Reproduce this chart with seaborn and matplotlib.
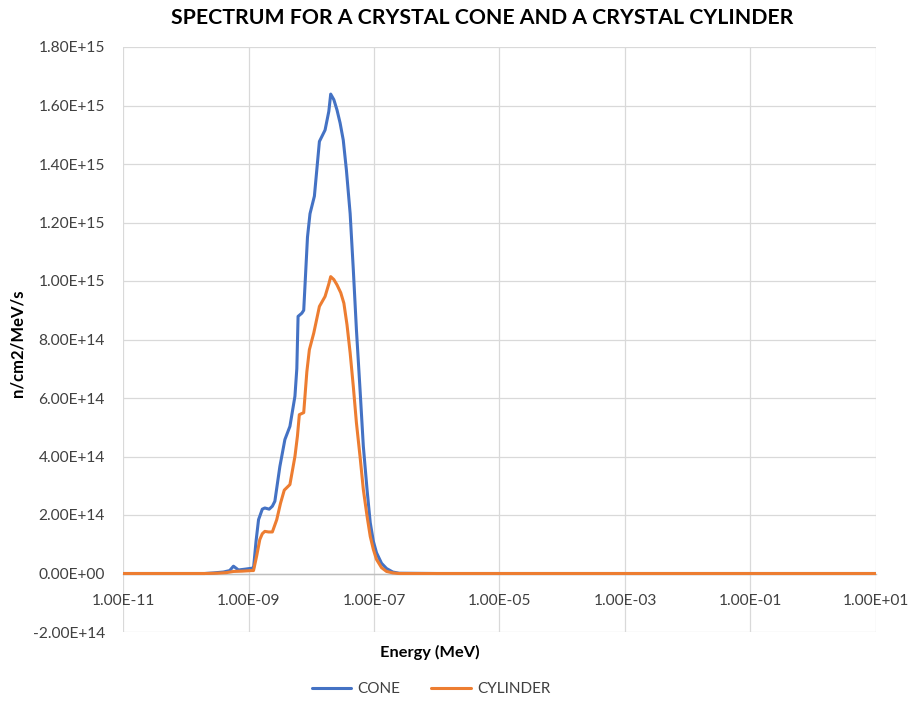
import numpy as np
import pandas as pd
import matplotlib
matplotlib.use("Agg")
import matplotlib.pyplot as plt
import seaborn as sns
from matplotlib.ticker import FixedLocator, FuncFormatter
from matplotlib.lines import Line2D

# ---- data (log10 of energy in MeV, flux in n/cm2/MeV/s) ----
cone_logE = [-11.0, -10.0, -9.7, -9.56, -9.4, -9.3, -9.24, -9.16, -9.05, -8.95, -8.92,
             -8.88, -8.84, -8.78, -8.74, -8.67, -8.62, -8.58, -8.50, -8.42, -8.34, -8.26,
             -8.23, -8.21, -8.15, -8.12, -8.06, -8.02, -7.95, -7.87, -7.78, -7.72, -7.69,
             -7.64, -7.59, -7.54, -7.49, -7.44, -7.38, -7.33, -7.28, -7.22, -7.17, -7.11,
             -7.06, -7.01, -6.96, -6.88, -6.80, -6.70, -6.6, -6.0, -4.0, -2.0, 0.0, 1.0]
cone_flux = [0, 0, 0, 2e12, 5e12, 1e13, 2.5e13, 1.2e13, 1.5e13, 1.8e13, 1.8e13,
             1.1e14, 1.84e14, 2.2e14, 2.24e14, 2.2e14, 2.3e14, 2.47e14, 3.66e14, 4.58e14, 5.03e14, 6.06e14,
             7.0e14, 8.79e14, 8.9e14, 9.0e14, 1.15e15, 1.23e15, 1.29e15, 1.477e15, 1.516e15, 1.58e15, 1.639e15,
             1.62e15, 1.585e15, 1.54e15, 1.482e15, 1.38e15, 1.23e15, 1.04e15, 8.33e14, 6.2e14, 4.35e14, 2.85e14,
             1.74e14, 1.1e14, 7.1e13, 3.5e13, 1.7e13, 5e12, 1e12, 0, 0, 0, 0, 0]

cyl_logE = [-11.0, -10.0, -9.7, -9.5, -9.35, -9.24, -9.1, -8.95, -8.92,
            -8.87, -8.82, -8.78, -8.74, -8.68, -8.62, -8.55, -8.49, -8.43, -8.34, -8.26,
            -8.22, -8.19, -8.12, -8.07, -8.03, -7.96, -7.87, -7.78, -7.72, -7.69, -7.64,
            -7.59, -7.53, -7.48, -7.43, -7.38, -7.33, -7.28, -7.22, -7.17, -7.11, -7.06,
            -7.01, -6.96, -6.88, -6.80, -6.70, -6.6, -6.0, -4.0, -2.0, 0.0, 1.0]
cyl_flux = [0, 0, 0, 1e12, 3e12, 7e12, 8e12, 1e13, 1e13,
            6e13, 1.16e14, 1.36e14, 1.44e14, 1.42e14, 1.42e14, 1.84e14, 2.4e14, 2.85e14, 3.04e14, 4.0e14,
            4.7e14, 5.43e14, 5.5e14, 6.9e14, 7.65e14, 8.22e14, 9.13e14, 9.47e14, 9.9e14, 1.015e15, 1.005e15,
            9.87e14, 9.6e14, 9.24e14, 8.5e14, 7.54e14, 6.4e14, 5.15e14, 3.95e14, 2.87e14, 1.95e14, 1.27e14,
            8.2e13, 4.8e13, 2.0e13, 7e12, 2e12, 0, 0, 0, 0, 0, 0]

series_names = ["CONE", "CYLINDER"]
x_ticks = [1e-11, 1e-9, 1e-7, 1e-5, 1e-3, 1e-1, 1e1]
y_ticks = [-2e14, 0, 2e14, 4e14, 6e14, 8e14, 1e15, 1.2e15, 1.4e15, 1.6e15, 1.8e15]

df = pd.concat([
    pd.DataFrame({"Energy": np.power(10.0, cone_logE), "Flux": cone_flux, "Series": series_names[0]}),
    pd.DataFrame({"Energy": np.power(10.0, cyl_logE), "Flux": cyl_flux, "Series": series_names[1]}),
], ignore_index=True)

sns.set_theme(style="white")
plt.rcParams["font.family"] = ["Lato", "DejaVu Sans"]

fig = plt.figure(figsize=(9.17, 7.01), dpi=100)
ax = fig.add_axes([123/917, 1 - 632/701, (876-123)/917, (632-47)/701])

palette = {"CONE": "#4472C4", "CYLINDER": "#ED7D31"}
sns.lineplot(data=df, x="Energy", y="Flux", hue="Series", palette=palette, estimator=None,
             sort=False, linewidth=2.2, ax=ax, legend=False)

ax.set_xscale("log")
ax.set_xlim(1e-11, 1e1)
ax.set_ylim(-2e14, 1.8e15)
ax.xaxis.set_major_locator(FixedLocator(x_ticks))
ax.xaxis.set_minor_locator(FixedLocator([]))
ax.yaxis.set_major_locator(FixedLocator(y_ticks))
fmt = FuncFormatter(lambda v, p: f"{v:.2E}")
ax.xaxis.set_major_formatter(fmt)
ax.yaxis.set_major_formatter(fmt)

ax.grid(True, color="#D9D9D9", linewidth=0.9)
ax.set_axisbelow(True)
for s in ["top", "right", "left"]:
    ax.spines[s].set_visible(False)
ax.spines["bottom"].set_position(("data", 0))
ax.spines["bottom"].set_color("#BFBFBF")
ax.spines["bottom"].set_linewidth(1.0)
ax.spines["bottom"].set_zorder(1.5)

ax.tick_params(axis="both", length=0, labelsize=11.2, colors="#404040")
ax.tick_params(axis="x", pad=15)
ax.tick_params(axis="y", pad=13)
ax.set_xlabel("")
ax.set_ylabel("")

fig.text(482/917, 1 - 18/701, "SPECTRUM FOR A CRYSTAL CONE AND A CRYSTAL CYLINDER",
         ha="center", va="center", fontsize=15.3, fontweight="bold", color="#000000")
fig.text(430/917, 1 - 652/701, "Energy (MeV)", ha="center", va="center",
         fontsize=11.8, fontweight="bold", color="#000000")
fig.text(18/917, 1 - 343/701, "n/cm2/MeV/s", ha="center", va="center", rotation=90,
         fontsize=12, fontweight="bold", color="#000000")

handles = [Line2D([], [], color=palette[n], linewidth=2.2) for n in series_names]
fig.legend(handles, series_names, loc="center", bbox_to_anchor=(431/917, 1 - 689/701), ncol=2,
           frameon=False, fontsize=11, handlelength=2.6, columnspacing=2.0, handletextpad=0.4,
           labelcolor="#404040")

fig.savefig("out.png", dpi=100)
